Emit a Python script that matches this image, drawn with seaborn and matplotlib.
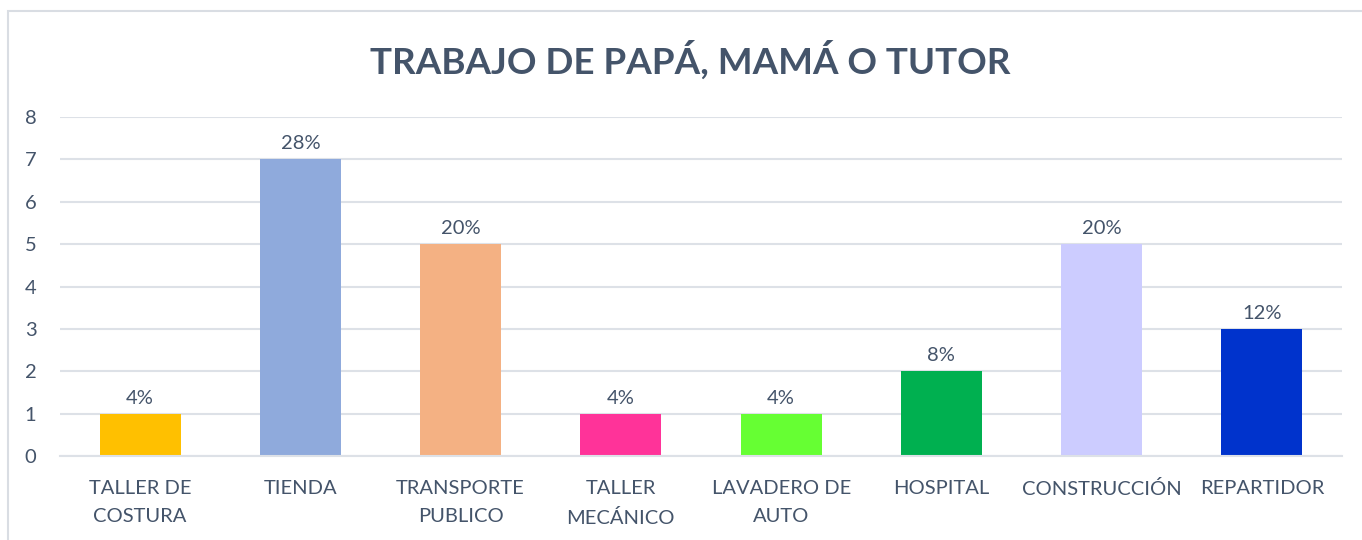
import pandas as pd
import matplotlib.pyplot as plt
import matplotlib.patches as patches
import seaborn as sns

# Data
categories = ['TALLER DE\nCOSTURA', 'TIENDA', 'TRANSPORTE\nPUBLICO', 'TALLER\nMECÁNICO',
              'LAVADERO DE\nAUTO', 'HOSPITAL', 'CONSTRUCCIÓN', 'REPARTIDOR']
counts = [1, 7, 5, 1, 1, 2, 5, 3]
pct_labels = ['4%', '28%', '20%', '4%', '4%', '8%', '20%', '12%']
bar_colors = ['#FFC000', '#8FAADC', '#F4B183', '#FF3399',
              '#66FF33', '#00B050', '#CCCCFF', '#0033CC']

text_color = '#44546A'
grid_color = '#DDE1E7'

df = pd.DataFrame({'trabajo': categories, 'n': counts})

sns.set_style('white')
plt.rcParams['font.family'] = ['Lato', 'DejaVu Sans']

fig = plt.figure(figsize=(13.62, 5.40), dpi=100)
ax = fig.add_axes([60 / 1362, 1 - 456 / 540, 1282 / 1362, 339 / 540])

sns.barplot(data=df, x='trabajo', y='n', hue='trabajo', palette=bar_colors,
            legend=False, width=0.505, saturation=1, linewidth=0, ax=ax)

ax.set_ylim(0, 8)
ax.set_xlim(-0.5, len(categories) - 0.5)
ax.set_yticks(range(0, 9))
ax.yaxis.grid(True, color=grid_color, lw=1.5)
ax.set_axisbelow(True)
for s in ['top', 'right', 'left']:
    ax.spines[s].set_visible(False)
ax.spines['bottom'].set_color(grid_color)
ax.spines['bottom'].set_linewidth(1.5)
ax.set_xlabel('')
ax.set_ylabel('')
ax.set_xticks(range(len(categories)))
ax.set_xticklabels(categories, linespacing=1.8, va='top')
ax.tick_params(axis='both', length=0, labelsize=14.5, labelcolor=text_color)
ax.tick_params(axis='y', pad=17)
ax.tick_params(axis='x', pad=17)

# percentage labels above bars
for i, (v, t) in enumerate(zip(counts, pct_labels)):
    ax.annotate(t, (i, v), xytext=(0, 5), textcoords='offset points',
                ha='center', va='bottom', fontsize=14.5, color=text_color)

fig.text(690 / 1362, 1 - 60 / 540, 'TRABAJO DE PAPÁ, MAMÁ O TUTOR',
         ha='center', va='center', fontsize=26.5, fontweight='bold', color=text_color)

# chart frame
fig.patches.append(patches.Rectangle((8 / 1362, -0.2), 2, 1 - 11 / 540 + 0.2,
                                     transform=fig.transFigure, fill=False,
                                     edgecolor='#D9DDE3', lw=1.5))

fig.savefig('out.png', dpi=100)
